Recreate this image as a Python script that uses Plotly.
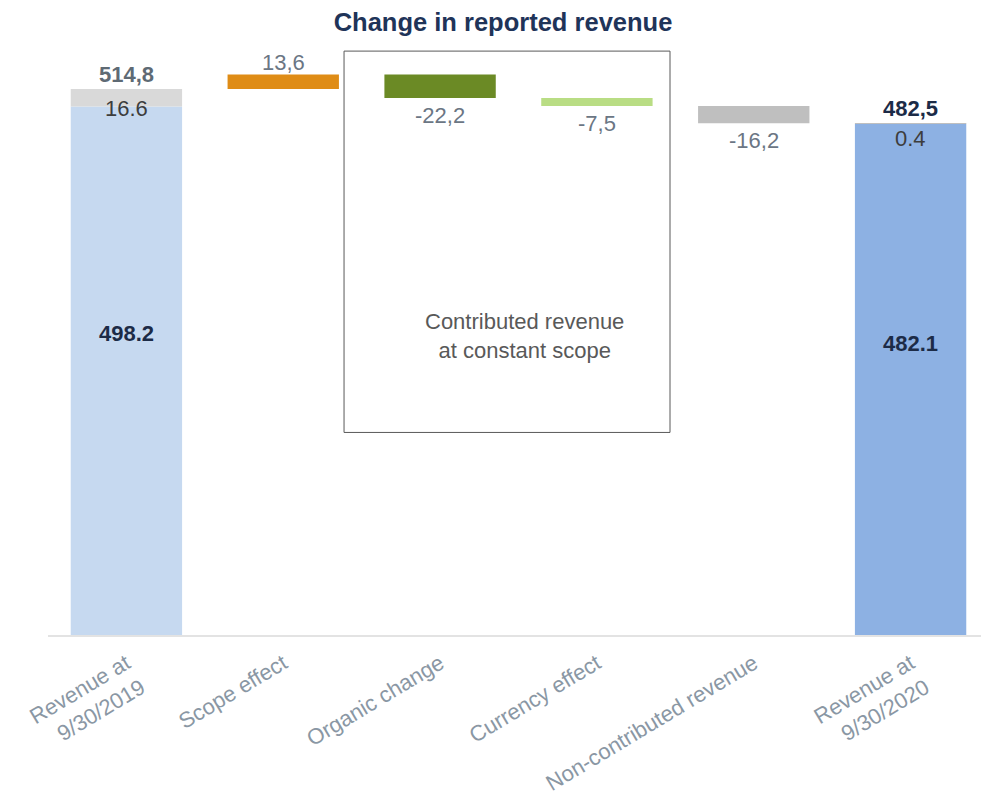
import plotly.graph_objects as go

# data
categories = ['Revenue at<br>9/30/2019', 'Scope effect', 'Organic change',
              'Currency effect', 'Non-contributed revenue', 'Revenue at<br>9/30/2020']
total_cats = [categories[0], categories[5]]
contributed = [498.2, 482.1]
non_contributed = [16.6, 0.4]
delta_cats = categories[1:5]
deltas = [13.6, -22.2, -7.5, -16.2]

start_total = contributed[0] + non_contributed[0]
end_total = contributed[1] + non_contributed[1]

# running bases for the floating bars
bases = []
running = start_total
for d in deltas:
    bases.append(running)
    running += d

def fmt_comma(v):
    return f'{v:.1f}'.replace('.', ',')

FONT = 'Liberation Sans, Arial, sans-serif'
NAVY = '#1c2b47'
GREY_TXT = '#6b7684'

fig = go.Figure()

fig.add_trace(go.Bar(
    x=total_cats, y=contributed,
    marker=dict(color=['#c6d9f0', '#8db1e3'], line=dict(width=0)),
    width=0.71, hoverinfo='skip'))
fig.add_trace(go.Bar(
    x=total_cats, y=non_contributed, base=contributed,
    marker=dict(color=['#d9d9d9', '#bfbfbf'], line=dict(width=0)),
    width=0.71, hoverinfo='skip'))
fig.add_trace(go.Bar(
    x=delta_cats, y=deltas, base=bases,
    marker=dict(color=['#df8c16', '#6b8a25', '#b9dd84', '#bfbfbf'], line=dict(width=0)),
    width=0.71, hoverinfo='skip'))

annotations = []
# totals above bars
for cat, tot, col in zip(total_cats, [start_total, end_total], ['#5e6a74', NAVY]):
    annotations.append(dict(x=cat, y=tot, text='<b>' + fmt_comma(tot) + '</b>',
                            yanchor='bottom', yshift=0, showarrow=False,
                            font=dict(size=22, color=col, family=FONT)))
# non-contributed part labels
for cat, c, n, sh in zip(total_cats, contributed, non_contributed, [-5, -1]):
    annotations.append(dict(x=cat, y=c + n, text=f'{n:.1f}', yanchor='top', yshift=sh,
                            showarrow=False, font=dict(size=22, color='#3d3d3d', family=FONT)))
# contributed labels inside bars
for cat, c in zip(total_cats, contributed):
    annotations.append(dict(x=cat, y=c * 0.57, text=f'<b>{c:.1f}</b>', showarrow=False,
                            font=dict(size=22, color=NAVY, family=FONT)))
# delta labels
for cat, b, d in zip(delta_cats, bases, deltas):
    if d >= 0:
        annotations.append(dict(x=cat, y=b + d, text=fmt_comma(d), yanchor='bottom', yshift=-2,
                                showarrow=False, font=dict(size=22, color=GREY_TXT, family=FONT)))
    else:
        annotations.append(dict(x=cat, y=b + d, text=fmt_comma(d), yanchor='top', yshift=-3,
                                showarrow=False, font=dict(size=22, color=GREY_TXT, family=FONT)))

annotations.append(dict(x=0.5068, xref='paper', y=0.503, yref='paper',
                        text='Contributed revenue<br>at constant scope', showarrow=False,
                        font=dict(size=22, color='#595959', family=FONT)))

fig.update_layout(
    width=981, height=791,
    margin=dict(l=40, r=0, t=33, b=164),
    paper_bgcolor='white', plot_bgcolor='white',
    showlegend=False, barmode='overlay',
    title=dict(text='<b>Change in reported revenue</b>', x=0.5046, xanchor='center',
               y=0.982, yanchor='middle', font=dict(size=25.5, color='#1f3459', family=FONT)),
    xaxis=dict(type='category', categoryorder='array', categoryarray=categories,
               range=[-0.5, 5.5], tickangle=-31, showline=True, automargin=False,
               linecolor='#e3e3e3', linewidth=2, ticks='', showgrid=False,
               ticklabelstandoff=5,
               tickfont=dict(size=22, color='#8a97a4', family=FONT)),
    yaxis=dict(range=[0, 560], visible=False, showgrid=False, zeroline=False),
    annotations=annotations,
    shapes=[
        dict(type='rect', xref='paper', yref='paper', x0=0.3146, x1=0.6610,
             y0=0.341, y1=0.983, line=dict(color='#595959', width=1)),
        dict(type='rect', xref='paper', yref='paper', x0=0.994, x1=0.999,
             y0=0.41, y1=0.445, fillcolor='#666666', line=dict(width=0)),
    ],
)

fig.write_html('out.html')
